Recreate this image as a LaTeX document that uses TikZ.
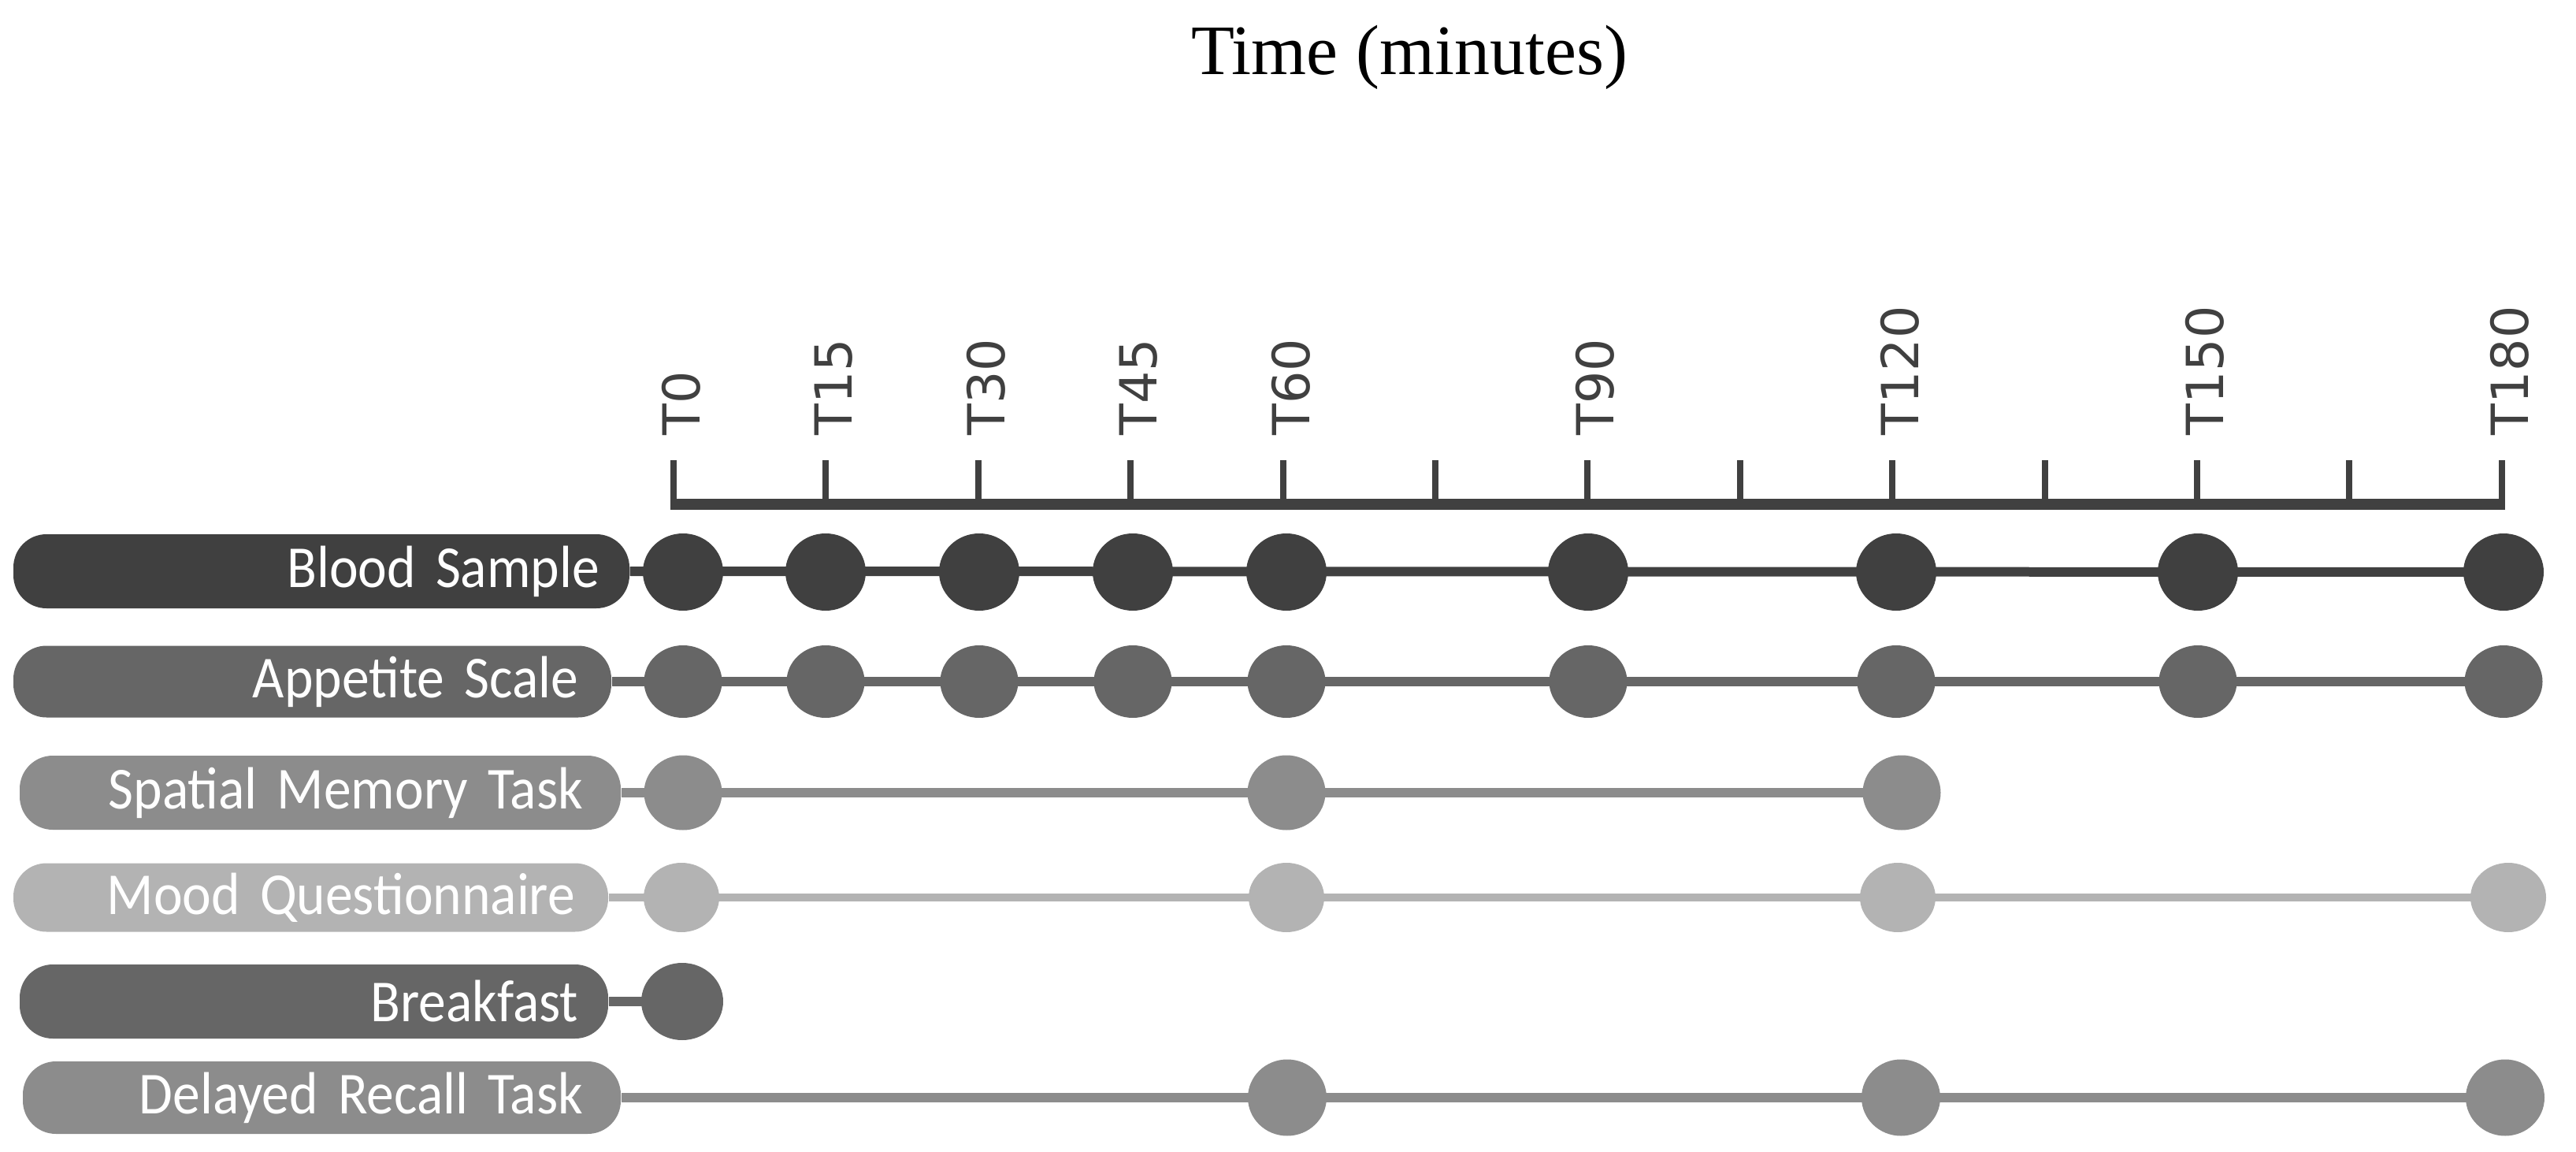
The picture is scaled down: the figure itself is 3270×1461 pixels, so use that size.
\documentclass[tikz,border=0pt]{standalone}
\usepackage{fontspec}
\setmainfont{Liberation Serif}
\newfontfamily\pillfont[FakeStretch=0.92,WordSpace=0.85]{Carlito}
\newfontfamily\tickfont{DejaVu Sans}
\usetikzlibrary{shapes.geometric,backgrounds}
\definecolor{cA}{HTML}{404040}
\definecolor{cB}{HTML}{666666}
\definecolor{cC}{HTML}{8C8C8C}
\definecolor{cD}{HTML}{B3B3B3}
\begin{document}
\begin{tikzpicture}[x=0.1mm,y=0.1mm,
  pill/.style={rectangle, rounded corners=4.2mm, inner ysep=0pt, align=right, text=white,
    font=\pillfont\fontsize{21.5}{24}\selectfont},
  dot/.style={ellipse, inner sep=0pt, draw=none},
  ticklab/.style={rotate=90, anchor=west, inner sep=0pt, text=cA,
    font=\tickfont\fontsize{18.5}{20}\selectfont},
  conn/.style={line width=1.2mm, line cap=butt}]
\useasboundingbox (0,0) rectangle (3270,1461);

% title
\node[anchor=base, inner sep=0pt, font=\fontsize{25.6}{30}\selectfont] (title) at (1789,1366) {Time (minutes)};

% axis
\draw[cA, line width=1.4mm] (851,821) -- (3180,821);
\foreach \x in {855,1048,1242,1435,1629,1822,2015,2209,2402,2596,2789,2982,3176}
  \draw[cA, line width=0.8mm] (\x,814) -- (\x,877);
\foreach \lab/\x in {T0/855,T15/1048,T30/1242,T45/1435,T60/1629,T90/2015,T120/2402,T150/2789,T180/3176}
  \node[ticklab] (l\lab) at (\x+10,908) {\lab};

% label pills
\node[pill, fill=cA, minimum width=78.2mm, minimum height=9.4mm, text width=70.6mm, inner xsep=3.8mm] (pBlood) at (408,736) {Blood Sample};
\node[pill, fill=cB, minimum width=75.9mm, minimum height=9.1mm, text width=67.5mm, inner xsep=4.2mm] (pApp) at (396.5,596) {Appetite Scale};
\node[pill, fill=cC, minimum width=76.3mm, minimum height=9.4mm, text width=66.7mm, inner xsep=4.8mm] (pSpat) at (406.5,455) {Spatial Memory Task};
\node[pill, fill=cD, minimum width=75.5mm, minimum height=8.7mm, text width=67.1mm, inner xsep=4.2mm] (pMood) at (394.5,322) {Mood Questionnaire};
\node[pill, fill=cB, minimum width=74.7mm, minimum height=9.4mm, text width=67.1mm, inner xsep=3.8mm] (pBreak) at (398.5,190) {Breakfast};
\node[pill, fill=cC, minimum width=75.9mm, minimum height=9.2mm, text width=66.3mm, inner xsep=4.8mm] (pDel) at (408.5,68) {Delayed Recall Task};

% dots
\foreach \t/\x in {0/867,15/1048,30/1243,45/1438,60/1633,90/2016,120/2407,150/2790,180/3178}
  \node[dot, fill=cA, minimum width=10.2mm, minimum height=9.8mm] (b\t) at (\x,735) {};
\foreach \t/\x in {0/867,15/1048,30/1243,45/1438,60/1633,90/2016,120/2407,150/2790,180/3178}
  \node[dot, fill=cB, minimum width=9.9mm, minimum height=9.2mm] (a\t) at (\x,596) {};
\foreach \t/\x in {0/867,60/1633,120/2414}
  \node[dot, fill=cC, minimum width=9.9mm, minimum height=9.5mm] (s\t) at (\x,455) {};
\foreach \t/\x in {0/865,60/1633,120/2409,180/3184}
  \node[dot, fill=cD, minimum width=9.6mm, minimum height=8.8mm] (m\t) at (\x,322) {};
\node[dot, fill=cB, minimum width=10.4mm, minimum height=9.8mm] (k0) at (866,190) {};
\foreach \t/\x in {60/1634,120/2413,180/3180}
  \node[dot, fill=cC, minimum width=10mm, minimum height=9.7mm] (d\t) at (\x,68) {};

% connectors
\begin{pgfonlayer}{background}
\draw[conn, cA] (pBlood.east) -- (b180.center);
\draw[conn, cB] (pApp.east) -- (a180.center);
\draw[conn, cC] (pSpat.east) -- (s120.center);
\draw[conn, cD, line width=1.0mm] (pMood.east) -- (m180.center);
\draw[conn, cB] (pBreak.east) -- (k0.center);
\draw[conn, cC] (pDel.east) -- (d180.center);
\end{pgfonlayer}
\end{tikzpicture}
\end{document}
